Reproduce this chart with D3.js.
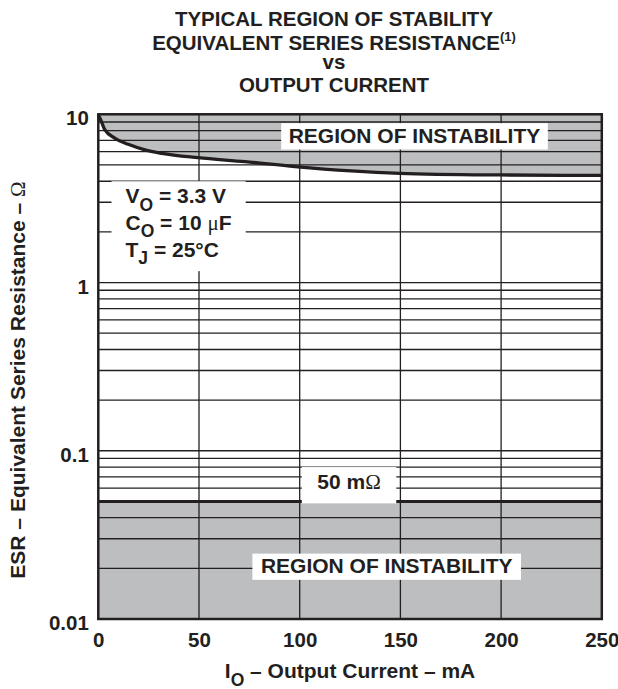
<!DOCTYPE html>
<html>
<head>
<meta charset="utf-8">
<script src="https://cdn.jsdelivr.net/npm/d3@7"></script>
<style>
  html, body { margin: 0; padding: 0; background: #fff; }
  svg { display: block; }
  text { font-family: "Liberation Sans", Arial, Helvetica, sans-serif; font-weight: bold; fill: #231f20; }
  .sym { font-family: "Liberation Serif", "DejaVu Serif", serif; font-weight: normal; }
</style>
</head>
<body>
<svg id="chart" width="618" height="689"></svg>
<script>
// ---- data ----
const xTickValues = [0, 50, 100, 150, 200, 250];
const yTickValues = [0.01, 0.1, 1, 10];
const yTickLabels = ["0.01", "0.1", "1", "10"];
// upper stability boundary (ESR, ohm) vs output current (mA)
const curveCurrent = [0, 0.8, 3.3, 8.3, 14.9, 23.2, 31.5, 49.6, 72.8, 97.6, 149.7, 199.3, 250];
const curveESR     = [9.9, 9.51, 8.07, 7.2, 6.63, 6.14, 5.86, 5.52, 5.23, 4.89, 4.46, 4.36, 4.33];
// lower stability boundary
const minESR = 0.05;
const titleLines = ["TYPICAL REGION OF STABILITY", "EQUIVALENT SERIES RESISTANCE", "vs", "OUTPUT CURRENT"];

// ---- layout ----
const svg = d3.select("#chart");
const L = 98.3, R = 601.8, T = 114.3, B = 619;
const x = d3.scaleLinear().domain([0, 250]).range([L, R]);
const y = d3.scaleLog().domain([0.01, 10]).range([B, T]);
const gridColor = "#231f20";
const shade = "#bdbec0";

const curveData = curveCurrent.map((c, i) => ({ c, r: curveESR[i] }));

// shaded regions
svg.append("path")
  .datum(curveData)
  .attr("fill", shade)
  .attr("d", d3.area().x(d => x(d.c)).y0(y(10)).y1(d => y(d.r)).curve(d3.curveMonotoneX));
svg.append("rect")
  .attr("x", x(0)).attr("y", y(minESR))
  .attr("width", x(250) - x(0)).attr("height", y(0.01) - y(minESR))
  .attr("fill", shade);

// grid lines
const grid = svg.append("g").attr("stroke", gridColor).attr("stroke-width", 1.3);
grid.selectAll("line.h").data(y.ticks()).join("line")
  .attr("x1", L).attr("x2", R)
  .attr("y1", d => y(d)).attr("y2", d => y(d));
grid.selectAll("line.v").data(xTickValues.slice(1, -1)).join("line")
  .attr("x1", d => x(d)).attr("x2", d => x(d))
  .attr("y1", T).attr("y2", B);

// upper boundary curve
svg.append("path")
  .datum(curveData)
  .attr("fill", "none").attr("stroke", "#231f20").attr("stroke-width", 3.3)
  .attr("d", d3.line().x(d => x(d.c)).y(d => y(d.r)).curve(d3.curveMonotoneX));

// lower boundary line
svg.append("line")
  .attr("x1", L).attr("x2", R)
  .attr("y1", y(minESR)).attr("y2", y(minESR))
  .attr("stroke", "#231f20").attr("stroke-width", 3);

// labelled white boxes
function boxedText(build, padX, padTop, padBottom) {
  const g = svg.append("g");
  const rect = g.append("rect").attr("fill", "#fff");
  const t = g.append("g");
  build(t);
  const bb = t.node().getBBox();
  rect.attr("x", bb.x - padX).attr("y", bb.y - padTop)
      .attr("width", bb.width + 2 * padX).attr("height", bb.height + padTop + padBottom);
  return g;
}

boxedText(t => {
  t.append("text").attr("x", x(157)).attr("y", y(6.72))
    .attr("text-anchor", "middle").attr("font-size", 21).text("REGION OF INSTABILITY");
}, 7.5, 1.2, 2.2);

boxedText(t => {
  t.append("text").attr("x", x(143.2)).attr("y", y(0.01876))
    .attr("text-anchor", "middle").attr("font-size", 21).text("REGION OF INSTABILITY");
}, 8.5, 0.4, 2.8);

boxedText(t => {
  const tx = t.append("text").attr("x", x(124.5)).attr("y", y(0.0592))
    .attr("text-anchor", "middle").attr("font-size", 21);
  tx.append("tspan").text("50 m");
  tx.append("tspan").attr("class", "sym").text("Ω");
}, 15.5, 3, 9.3);

boxedText(t => {
  const x0 = x(13.5), y0 = y(2.96);
  const lines = [
    ["V", "O", " = 3.3 V", null],
    ["C", "O", " = 10 ", "μ", "F"],
    ["T", "J", " = 25°C", null]
  ];
  lines.forEach((ln, i) => {
    const tx = t.append("text").attr("x", x0).attr("y", y0 + i * 26.7).attr("font-size", 21);
    tx.append("tspan").text(ln[0]);
    tx.append("tspan").attr("font-size", 17.5).attr("dy", 7.5).text(ln[1]);
    tx.append("tspan").attr("dy", -7.5).text(ln[2]);
    if (ln[3]) {
      tx.append("tspan").attr("class", "sym").text(ln[3]);
      tx.append("tspan").text(ln[4]);
    }
  });
}, 14, 3, 3);

// frame
svg.append("rect")
  .attr("x", L).attr("y", T).attr("width", R - L).attr("height", B - T)
  .attr("fill", "none").attr("stroke", "#231f20").attr("stroke-width", 2.5);

// axes
const yAxis = svg.append("g").attr("transform", `translate(${L},0)`)
  .call(d3.axisLeft(y).tickValues(yTickValues).tickSize(0).tickPadding(9.5)
        .tickFormat((d, i) => yTickLabels[i]));
yAxis.select(".domain").remove();
yAxis.selectAll("text").attr("dy", 10.5).attr("font-size", 20.5)
  .attr("font-family", null).attr("fill", null);

const xAxis = svg.append("g").attr("transform", `translate(0,${B})`)
  .call(d3.axisBottom(x).tickValues(xTickValues).tickSize(0).tickPadding(0)
        .tickFormat(d3.format("d")));
xAxis.select(".domain").remove();
xAxis.selectAll("text").attr("y", 27.7).attr("dy", 0).attr("font-size", 20.5)
  .attr("font-family", null).attr("fill", null);

// axis titles
const xt = svg.append("text").attr("x", (L + R) / 2).attr("y", 678)
  .attr("text-anchor", "middle").attr("font-size", 21);
xt.append("tspan").text("I");
xt.append("tspan").attr("font-size", 17.5).attr("dy", 7.5).text("O");
xt.append("tspan").attr("dy", -7.5).text(" – Output Current – mA");

const yt = svg.append("text")
  .attr("transform", "translate(25,380) rotate(-90)")
  .attr("text-anchor", "middle").attr("font-size", 21);
yt.append("tspan").text("ESR – Equivalent Series Resistance – ");
yt.append("tspan").attr("class", "sym").text("Ω");

// title
const titleY = [26, 49.5, 68.5, 91.5];
titleLines.forEach((s, i) => {
  const tx = svg.append("text").attr("font-size", 20.5).attr("text-anchor", "middle")
    .attr("x", 334).attr("y", titleY[i]);
  tx.append("tspan").text(s);
  if (i === 1) tx.append("tspan").attr("font-size", 13).attr("dy", -9).text("(1)");
});
</script>
</body>
</html>
